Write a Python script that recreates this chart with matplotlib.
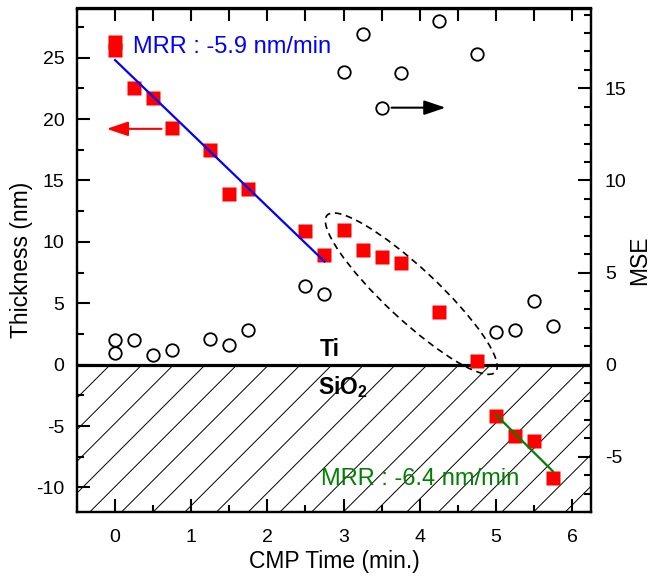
import numpy as np
import matplotlib
matplotlib.use("Agg")
import matplotlib.pyplot as plt
from matplotlib.patches import Ellipse
import matplotlib.transforms as mtransforms
from matplotlib.ticker import MultipleLocator

plt.rcParams['font.family'] = ['Liberation Sans', 'DejaVu Sans']
plt.rcParams['mathtext.fontset'] = 'custom'
plt.rcParams['mathtext.rm'] = 'Liberation Sans'
plt.rcParams['mathtext.bf'] = 'Liberation Sans:bold'
plt.rcParams['axes.unicode_minus'] = False

# ---- data ----
thick_time = [0, 0, 0.25, 0.5, 0.75, 1.25, 1.5, 1.75, 2.5, 2.75,
              3.0, 3.25, 3.5, 3.75, 4.25, 4.75, 5.0, 5.25, 5.5, 5.75]
thickness = [26.3, 25.6, 22.5, 21.7, 19.3, 17.45, 13.9, 14.3, 10.85, 8.96,
             10.99, 9.37, 8.77, 8.28, 4.29, 0.33, -4.2, -5.8, -6.24, -9.23]
mse_time = [0, 0, 0.25, 0.5, 0.75, 1.25, 1.5, 1.75, 2.5, 2.75,
            3.0, 3.25, 3.5, 3.75, 4.25, 4.75, 5.0, 5.25, 5.5, 5.75]
mse = [1.32, 0.64, 1.32, 0.51, 0.78, 1.41, 1.05, 1.87, 4.28, 3.85,
       15.9, 17.97, 13.95, 15.85, 18.66, 16.85, 1.78, 1.9, 3.44, 2.08]
fit_ti_x = [0.0, 2.75]
fit_ti_y = [24.8, 8.4]
fit_sio2_x = [5.0, 5.75]
fit_sio2_y = [-4.07, -8.69]
label_ti = "MRR : -5.9 nm/min"
label_sio2 = "MRR : -6.4 nm/min"

W, H = 650, 578
fig = plt.figure(figsize=(W / 100, H / 100), dpi=100)
l, r, b, t = 77 / W, 591 / W, 1 - 512 / H, 1 - 8.5 / H
ax = fig.add_axes([l, b, r - l, t - b])
ax.set_xlim(-0.5, 6.25)
ax.set_ylim(-12, 29)

# hatch below zero (45 deg lines in pixel space)
axw_px = (r - l) * W
axh_px = (t - b) * H
y0 = 12 / 41.0
reg_h_px = y0 * axh_px
spacing = 31.7
first = 33.3
xs = np.arange(first - 20 * spacing, axw_px + reg_h_px + spacing, spacing)
for xp in xs:
    ax.plot([xp / axw_px, (xp - reg_h_px) / axw_px], [y0, 0],
            transform=ax.transAxes, color='black', lw=0.7, zorder=1,
            clip_on=True)

ax.axhline(0, color='black', lw=2.3, zorder=2)

ax.plot(thick_time, thickness, 's', color='#ff0000', ms=9.7, mec='none', zorder=4)
ax.plot(fit_ti_x, fit_ti_y, '-', color='#0000ff', lw=1.6, zorder=5)
ax.plot(fit_sio2_x, fit_sio2_y, '-', color='#008000', lw=1.6, zorder=5)

ax.text(0.24, 25.9, label_ti, color='#0000ff', fontsize=17, va='center', ha='left')
ax.text(2.70, -9.3, label_sio2, color='#008000', fontsize=17, va='center', ha='left')

ax.text(2.82, 0.3, 'Ti', fontsize=16.5, fontweight='bold', ha='center', va='bottom')
ax.text(2.66, -2.4, r'SiO$_\mathbf{2}$', fontsize=16.5, fontweight='bold', ha='left', va='baseline')

ax.annotate('', xy=(-0.11, 19.2), xytext=(0.61, 19.2),
            arrowprops=dict(arrowstyle='-|>,head_length=0.65,head_width=0.22',
                            mutation_scale=20, color='#ff0000', lw=1.5,
                            shrinkA=0, shrinkB=0))

# ellipse (dashed) around transition region
etrans = fig.dpi_scale_trans + mtransforms.ScaledTranslation(3.89, 5.78, ax.transData)
ell = Ellipse((0, 0), width=2.30, height=0.52, angle=-43, transform=etrans,
              fill=False, ec='black', lw=1.2, ls=(0, (4, 2.8)), zorder=6)
ax.add_patch(ell)

ax.set_xticks([0, 1, 2, 3, 4, 5, 6])
ax.xaxis.set_minor_locator(MultipleLocator(0.5))
ax.set_yticks([-10, -5, 0, 5, 10, 15, 20, 25])
ax.yaxis.set_minor_locator(MultipleLocator(2.5))
ax.tick_params(which='both', direction='in', width=1.5, labelsize=14,
               top=False, right=False)
ax.tick_params(which='major', length=9.5)
ax.tick_params(which='minor', length=4.8)
ax.tick_params(axis='x', pad=12)
ax.tick_params(axis='y', pad=9)
ax.set_xlabel('CMP Time (min.)', fontsize=16.5, labelpad=3)
ax.set_ylabel('Thickness (nm)', fontsize=16.5, labelpad=2)
for s in ax.spines.values():
    s.set_linewidth(1.6)

sec = ax.secondary_xaxis('top')
sec.set_xticks(np.arange(0, 6.01, 0.5))
sec.tick_params(direction='in', length=9.5, width=1.5, labeltop=False)
sec.spines['top'].set_linewidth(1.6)

ax2 = ax.twinx()
ax2.set_ylim(-8, 29 / 1.5)
ax2.plot(mse_time, mse, 'o', mfc='none', mec='black', ms=9, mew=1.3, zorder=4)
ax2.annotate('', xy=(4.34, 13.95), xytext=(3.63, 13.95),
             arrowprops=dict(arrowstyle='-|>,head_length=0.65,head_width=0.22',
                             mutation_scale=20, color='black', lw=1.5,
                             shrinkA=0, shrinkB=0))
ax2.set_yticks([-5, 0, 5, 10, 15])
ax2.yaxis.set_minor_locator(MultipleLocator(1))
ax2.tick_params(which='both', direction='in', width=1.5, labelsize=14, pad=10)
ax2.tick_params(which='major', length=9.5)
ax2.tick_params(which='minor', length=4.8)
ax2.set_ylabel('MSE', fontsize=16.5, labelpad=1)
for s in ax2.spines.values():
    s.set_linewidth(1.6)

fig.savefig('out.png', dpi=100)
